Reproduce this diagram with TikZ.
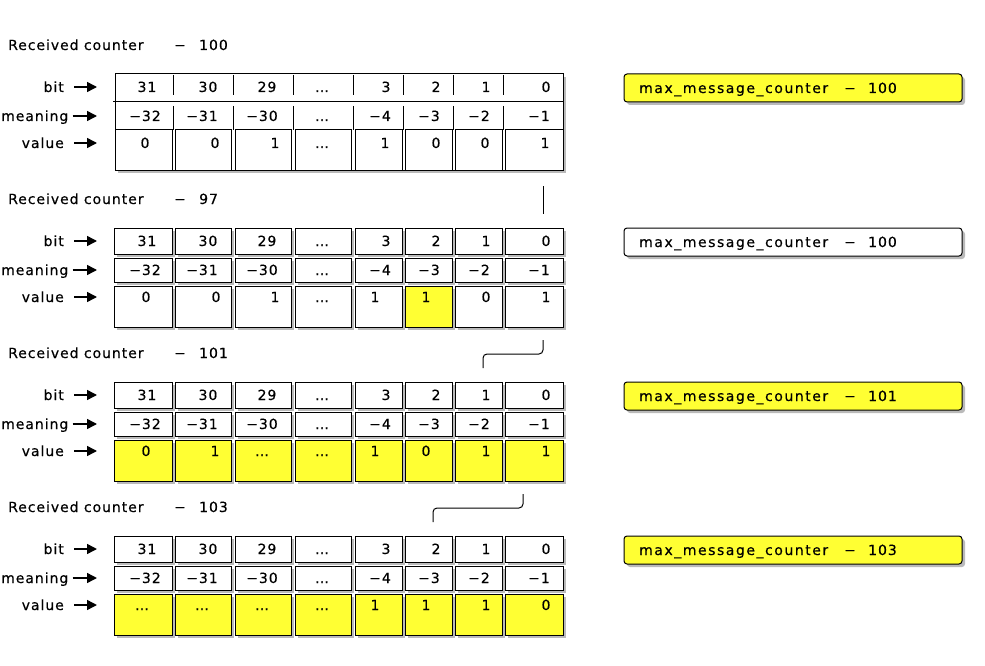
\documentclass[tikz,border=0pt]{standalone}
\usepackage{fontspec}
\setmainfont[LetterSpace=6.8,FakeBold=0.4]{DejaVu Sans}
\newfontfamily\mfont[LetterSpace=11,FakeBold=0.4]{DejaVu Sans}
\usetikzlibrary{shadows,arrows.meta}
\definecolor{hl}{RGB}{255,255,51}
\tikzset{
  txt/.style={font=\fontsize{14}{16}\selectfont, inner sep=0pt, anchor=base},
  shad/.style={drop shadow={shadow xshift=3pt, shadow yshift=-3pt, fill=black!45, opacity=0.6}},
  cellst/.style={draw, line width=1pt, fill=white, inner sep=0pt, shad},
  vbox/.style={draw, line width=1pt, fill=white, inner sep=0pt},
  mbox/.style={draw, line width=1pt, rounded corners=3pt, inner sep=0pt,
    minimum width=338, minimum height=28, shad},
  arr/.style={line width=1.5pt, -{Triangle[length=10pt,width=10pt]}},
  conn/.style={line width=1pt, rounded corners=4pt},
  tick/.style={line width=1pt}
}
\begin{document}
\begin{tikzpicture}[x=1pt,y=-1pt]
\useasboundingbox (0,0) rectangle (985,666);

% ---------- headers, labels and right boxes ----------
\foreach \k/\n/\m/\f in {0/100/100/hl,1/97/100/white,2/101/101/hl,3/103/103/hl}{
  \pgfmathsetmacro\o{154*\k}
  \node[txt, anchor=base west] (rc\k) at (8,50+\o) {Received counter};
  \node[txt] (rd\k) at (180,50+\o) {−};
  \node[txt, anchor=base west] (rn\k) at (199,50+\o) {\n};
  \node[txt, anchor=base east] (lb\k) at (64,92+\o) {bit};
  \node[txt, anchor=base east] (lm\k) at (68.5,121+\o) {meaning};
  \node[txt, anchor=base east] (lv\k) at (64,148+\o) {value};
  \coordinate (tb\k) at (97,87+\o);
  \coordinate (tm\k) at (97,116+\o);
  \coordinate (tv\k) at (97,143+\o);
  \draw[arr] ([xshift=10pt]lb\k.base east |- tb\k) -- (tb\k);
  \draw[arr] ([xshift=4pt]lm\k.base east |- tm\k) -- (tm\k);
  \draw[arr] ([xshift=10pt]lv\k.base east |- tv\k) -- (tv\k);
  \node[mbox, fill=\f] (mb\k) at (793,88+\o) {};
  \node[txt, anchor=base west, font=\fontsize{14}{16}\mfont] (mt\k) at (639,93+\o) {max\_message\_counter};
  \node[txt] (md\k) at (850,93+\o) {−};
  \node[txt, anchor=base west] (mn\k) at (868,93+\o) {\m};
}

% ---------- section 0 (merged table) ----------
\node[cellst, minimum width=448, minimum height=96] (ob) at (339,122) {};
\draw[tick] (113,102) -- (ob.east |- 0,102);
\foreach \x in {173.5,233,293,353,403.5,453.5,503.5}{
  \draw[tick] (\x,75) -- (\x,95);
  \draw[tick] (\x,106) -- (\x,130);
}
\foreach \a/\b [count=\i] in {115/172,175/231,235/291,295/351,355/402,405/452,455/502,505/563}{
  \node[vbox, minimum width={\b-\a}, minimum height=40] (cv0\i) at ({(\a+\b)/2},150) {};
}

% ---------- sections 1..3 (separate cells) ----------
\foreach \k in {1,2,3}{
  \pgfmathsetmacro\o{154*\k}
  \foreach \a/\b [count=\i] in {114/172,175/231,235/291,295/351,355/402,405/452,455/502,505/563}{
    \ifnum\k>1 \def\fc{hl}\else\ifnum\i=6 \def\fc{hl}\else\def\fc{white}\fi\fi
    \node[cellst, minimum width={\b-\a}, minimum height=26] (cb\k\i) at ({(\a+\b)/2},87+\o) {};
    \node[cellst, minimum width={\b-\a}, minimum height=24] (cm\k\i) at ({(\a+\b)/2},116+\o) {};
    \node[cellst, fill=\fc, minimum width={\b-\a}, minimum height=41] (cv\k\i) at ({(\a+\b)/2},152.5+\o) {};
  }
}

% ---------- bit and meaning texts ----------
\foreach \k in {0,1,2,3}{
  \pgfmathsetmacro\o{154*\k}
  \foreach \x/\t [count=\i] in {147/31,208/30,267/29,322/…,386/3,436/2,486/1,546/0}{
    \node[txt] (xb\k\i) at (\x,92+\o) {\t};
  }
  \foreach \x/\t [count=\i] in {145/−32,202/−31,262/−30,322/…,380/−4,429/−3,479/−2,539/−1}{
    \node[txt] (xm\k\i) at (\x,121+\o) {\t};
  }
}

% ---------- value texts ----------
\foreach \x/\t [count=\i] in {145/0,215/0,275/1,322/…,385/1,436/0,485/0,545/1}{
  \node[txt] (xv0\i) at (\x,148) {\t};
}
\foreach \x/\t [count=\i] in {146/0,216/0,275/1,322/…,375/1,426/1,486/0,546/1}{
  \node[txt] (xv1\i) at (\x,302) {\t};
}
\foreach \x/\t [count=\i] in {146/0,215/1,262/…,322/…,375/1,426/0,486/1,546/1}{
  \node[txt] (xv2\i) at (\x,456) {\t};
}
\foreach \x/\t [count=\i] in {142/…,202/…,262/…,322/…,375/1,426/1,486/1,546/0}{
  \node[txt] (xv3\i) at (\x,610) {\t};
}

% ---------- connectors ----------
\coordinate (k1a) at (543,186);
\coordinate (k1b) at (543,214);
\draw[conn] (k1a) -- (k1b);
\coordinate (k2a) at (543,340);
\coordinate (k2b) at (483,368);
\draw[conn] (k2a) -- (543,354) -- (483,354) -- (k2b);
\coordinate (k3a) at (523,494);
\coordinate (k3b) at (433,522);
\draw[conn] (k3a) -- (523,508) -- (433,508) -- (k3b);
\end{tikzpicture}
\end{document}
